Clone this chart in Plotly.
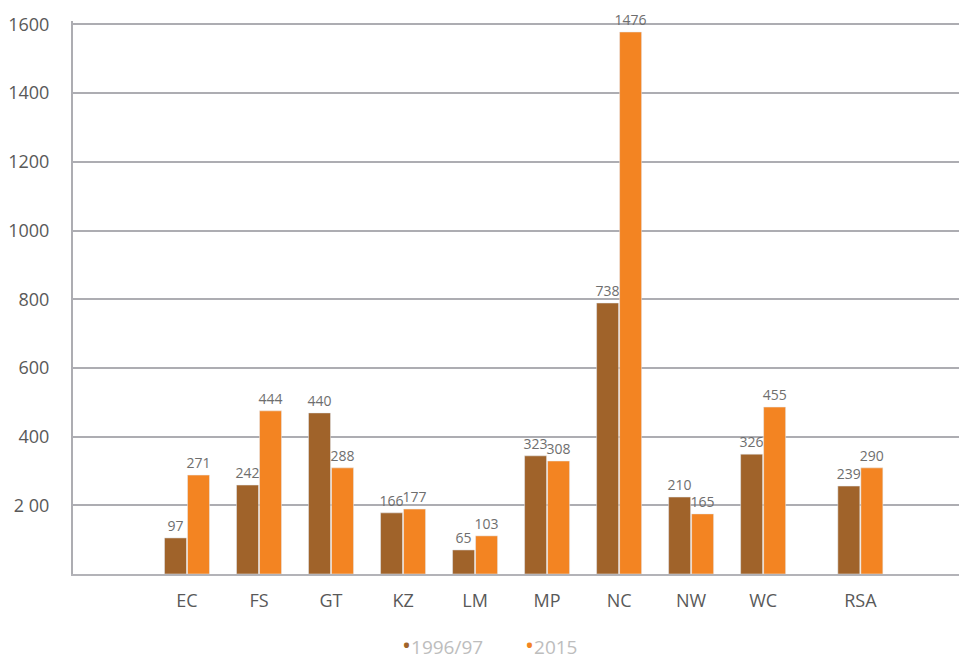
import plotly.graph_objects as go

categories = ["EC", "FS", "GT", "KZ", "LM", "MP", "NC", "NW", "WC", "RSA"]
positions = [0, 1, 2, 3, 4, 5, 6, 7, 8, 9.35]
# bar heights as drawn in the picture
heights_1996 = [105, 259, 469, 178, 70, 344, 789, 224, 349, 256]
heights_2015 = [288, 475, 309, 189, 111, 329, 1578, 175, 486, 309]
# printed data labels
labels_1996 = ["97", "242", "440", "166", "65", "323", "738", "210", "326", "239"]
labels_2015 = ["271", "444", "288", "177", "103", "308", "1476", "165", "455", "290"]
series_names = ["1996/97", "2015"]
y_tickvals = [200, 400, 600, 800, 1000, 1200, 1400, 1600]
y_ticktext = ["2 00", "400", "600", "800", "1000", "1200", "1400", "1600"]

BROWN = "#A0632A"
ORANGE = "#F38422"
FONT = "Open Sans"

fig = go.Figure()
fig.add_trace(go.Bar(
    x=positions, y=heights_1996, name=series_names[0], marker_color=BROWN,
    text=labels_1996, textposition="outside", constraintext="none",
    textfont=dict(family=FONT, size=14, color="#6E6E6E"),
    cliponaxis=False, showlegend=False,
))
fig.add_trace(go.Bar(
    x=positions, y=heights_2015, name=series_names[1], marker_color=ORANGE,
    text=labels_2015, textposition="outside", constraintext="none",
    textfont=dict(family=FONT, size=14, color="#6E6E6E"),
    cliponaxis=False, showlegend=False,
))

legend_y = -0.127
fig.update_layout(
    width=959, height=658,
    margin=dict(l=73, r=0, t=21, b=84),
    paper_bgcolor="white", plot_bgcolor="white",
    barmode="group", bargap=0.361, bargroupgap=0.0435,
    font=dict(family=FONT, color="#595959"),
    xaxis=dict(
        range=[-1.583, 10.72], tickmode="array", tickvals=positions, ticktext=categories,
        showgrid=False, zeroline=False, showline=True, linecolor="#B3B3B8", linewidth=2,
        ticks="", ticklabelstandoff=9, tickfont=dict(family=FONT, size=18, color="#595959"),
    ),
    yaxis=dict(
        range=[0, 1610], tickmode="array", tickvals=y_tickvals, ticktext=y_ticktext,
        showgrid=True, gridcolor="#ADADB2", gridwidth=2, zeroline=False,
        showline=True, linecolor="#ADADB2", linewidth=2, ticks="",
        ticklabelstandoff=18,
        tickfont=dict(family=FONT, size=18, color="#595959"),
    ),
    annotations=[
        dict(xref="paper", yref="paper", x=(442 - 73) / 886, y=legend_y, xanchor="center", yanchor="middle",
             showarrow=False, font=dict(family=FONT, size=19, color="#BDBDBD"),
             text=f'<span style="color:{BROWN};font-size:24px">•</span>{series_names[0]}'),
        dict(xref="paper", yref="paper", x=(551 - 73) / 886, y=legend_y, xanchor="center", yanchor="middle",
             showarrow=False, font=dict(family=FONT, size=19, color="#BDBDBD"),
             text=f'<span style="color:{ORANGE};font-size:24px">•</span>{series_names[1]}'),
    ],
)

fig.write_html(
    "out.html",
    config={"displayModeBar": False},
    post_script="document.body.style.margin='0';document.body.style.overflow='hidden';",
)
